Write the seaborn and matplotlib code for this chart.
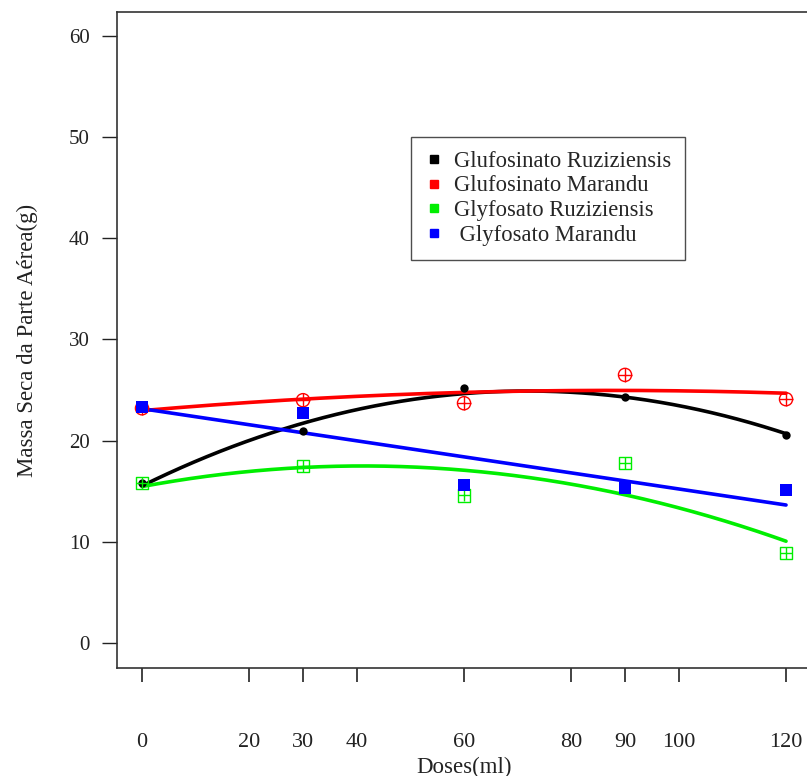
import numpy as np
import pandas as pd
import matplotlib
matplotlib.use("Agg")
import matplotlib.pyplot as plt
from matplotlib.lines import Line2D
import seaborn as sns

doses = [0, 30, 60, 90, 120]
glufosinato_ruziziensis = [15.8, 21.0, 25.2, 24.3, 20.6]
glufosinato_marandu = [23.2, 24.0, 23.7, 26.5, 24.1]
glyfosato_ruziziensis = [15.8, 17.5, 14.6, 17.8, 8.9]
glyfosato_marandu = [23.3, 22.7, 15.6, 15.3, 15.1]

series_names = ["Glufosinato Ruziziensis", "Glufosinato Marandu",
                "Glyfosato Ruziziensis", " Glyfosato Marandu"]
series_values = [glufosinato_ruziziensis, glufosinato_marandu,
                 glyfosato_ruziziensis, glyfosato_marandu]
fit_degree = [2, 2, 2, 1]
colors = ["#000000", "#ff0000", "#00ee00", "#0000ff"]

xticks = [0, 20, 30, 40, 60, 80, 90, 100, 120]
yticks = [0, 10, 20, 30, 40, 50, 60]

sns.set_theme(style="ticks")
plt.rcParams["font.family"] = ["Liberation Serif", "DejaVu Serif"]

W, H = 807, 776
fig = plt.figure(figsize=(W / 100, H / 100), dpi=100)
ax = fig.add_axes([117 / W, (H - 668) / H, 695 / W, 656 / H])

xs = np.linspace(0, 120, 200)
for name, vals, deg, c in zip(series_names, series_values, fit_degree, colors):
    coef = np.polyfit(doses, vals, deg)
    df_fit = pd.DataFrame({"x": xs, "y": np.polyval(coef, xs)})
    sns.lineplot(data=df_fit, x="x", y="y", color=c, linewidth=2.6, ax=ax,
                 legend=False, zorder=3)

# black filled circles
sns.scatterplot(x=doses, y=glufosinato_ruziziensis, color=colors[0], marker="o",
                s=36, edgecolor=colors[0], linewidth=0, ax=ax, zorder=4)
# red circle with plus
sns.scatterplot(x=doses, y=glufosinato_marandu, marker="o", s=90,
                facecolor="none", edgecolor=colors[1], linewidth=1.0, ax=ax, zorder=4)
sns.scatterplot(x=doses, y=glufosinato_marandu, marker="+", s=90,
                color=colors[1], linewidth=1.0, ax=ax, zorder=4)
# green square with plus
sns.scatterplot(x=doses, y=glyfosato_ruziziensis, marker="s", s=80,
                facecolor="none", edgecolor=colors[2], linewidth=1.0, ax=ax, zorder=4)
sns.scatterplot(x=doses, y=glyfosato_ruziziensis, marker="+", s=80,
                color=colors[2], linewidth=1.0, ax=ax, zorder=4)
# blue filled squares
sns.scatterplot(x=doses, y=glyfosato_marandu, marker="s", s=70,
                color=colors[3], linewidth=0, ax=ax, zorder=4)

ax.set_xlim(-4.66, 124.84)
ax.set_ylim(-2.47, 62.37)
ax.set_xticks(xticks)
ax.set_xticklabels([str(t) for t in xticks])
ax.set_yticks(yticks)
ax.set_yticklabels([str(t) for t in yticks])
ax.tick_params(axis="x", direction="out", length=10, width=1.2, pad=37,
               labelsize=16, colors="#222222")
ax.tick_params(axis="y", direction="out", length=10.5, width=1.0, pad=9,
               labelsize=15, colors="#222222")
for sp in ax.spines.values():
    sp.set_visible(True)
    sp.set_color("#333333")
    sp.set_linewidth(1.2)
ax.set_xlabel("Doses(ml)", fontsize=16.5, labelpad=3, color="#222222")
ax.set_ylabel("Massa Seca da Parte Aérea(g)", fontsize=16.5, labelpad=22, color="#222222")

handles = [Line2D([], [], linestyle="none", marker="s", markersize=6,
                  markerfacecolor=c, markeredgecolor=c) for c in colors]
leg = ax.legend(handles, series_names, loc="upper left",
                bbox_to_anchor=((411 - 117) / 695, (668 - 137) / 656),
                frameon=True, fancybox=False, fontsize=16.3, handlelength=0.8,
                handletextpad=0.5, labelspacing=0.17, borderpad=0.6,
                borderaxespad=0)
leg.get_frame().set_edgecolor("#222222")
leg.get_frame().set_linewidth(1.0)

fig.savefig("out.png", dpi=100)
